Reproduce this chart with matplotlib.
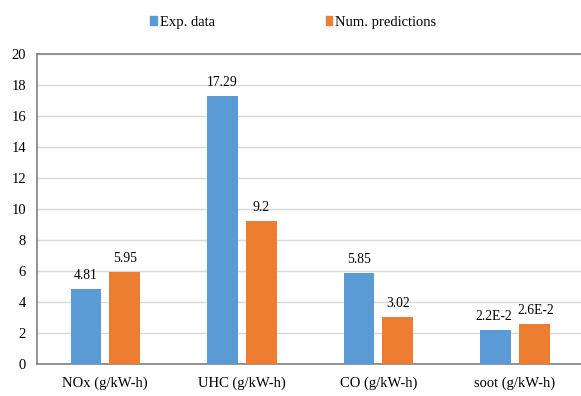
import matplotlib.pyplot as plt
import numpy as np
from matplotlib.patches import Patch

categories = ["NOx (g/kW-h)", "UHC (g/kW-h)", "CO (g/kW-h)", "soot (g/kW-h)"]
exp_data = [4.81, 17.29, 5.85, 2.2]
num_pred = [5.95, 9.2, 3.02, 2.6]
exp_labels = ["4.81", "17.29", "5.85", "2.2E-2"]
num_labels = ["5.95", "9.2", "3.02", "2.6E-2"]

plt.rcParams['font.family'] = ['Liberation Serif', 'DejaVu Serif']

blue = "#5B9BD5"
orange = "#ED7D31"
fs = 10.5

fig = plt.figure(figsize=(5.81, 3.96), dpi=100)
ax = fig.add_axes([0.0637, 0.081, 0.94, 0.783])

x = np.arange(len(categories))
w = 0.225
off = 0.142
b1 = ax.bar(x - off, exp_data, w, color=blue, zorder=3)
b2 = ax.bar(x + off, num_pred, w, color=orange, zorder=3)

for rect, lab in zip(b1, exp_labels):
    ax.annotate(lab, (rect.get_x() + rect.get_width() / 2, rect.get_height()),
                xytext=(-1 if "E" in lab else 0, 5), textcoords="offset points",
                ha="center", va="bottom", fontsize=9.8)
for rect, lab in zip(b2, num_labels):
    ax.annotate(lab, (rect.get_x() + rect.get_width() / 2, rect.get_height()),
                xytext=(1 if "E" in lab else 0, 5), textcoords="offset points",
                ha="center", va="bottom", fontsize=9.8)

ax.set_xlim(-0.5, 3.5)
ax.set_ylim(0, 20)
ax.set_yticks(range(0, 21, 2))
ax.set_xticks(x)
ax.set_xticklabels(categories)
ax.tick_params(axis="both", length=0, labelsize=fs)
ax.tick_params(axis="x", pad=9)
ax.tick_params(axis="y", pad=8)
ax.yaxis.grid(True, color="#D9D9D9", linewidth=1, zorder=0)
for s in ["left", "top", "bottom"]:
    ax.spines[s].set_color("#808080")
    ax.spines[s].set_linewidth(1.2)
ax.spines["right"].set_visible(False)

handles = [Patch(color=blue, label="Exp. data"), Patch(color=orange, label="Num. predictions")]
fig.legend(handles=handles, loc="center", bbox_to_anchor=(0.505, 0.944), ncol=2, frameon=False,
           handlelength=0.45, handleheight=0.6, handletextpad=0.2, columnspacing=7.6, fontsize=fs)

fig.savefig("out.png", dpi=100)
